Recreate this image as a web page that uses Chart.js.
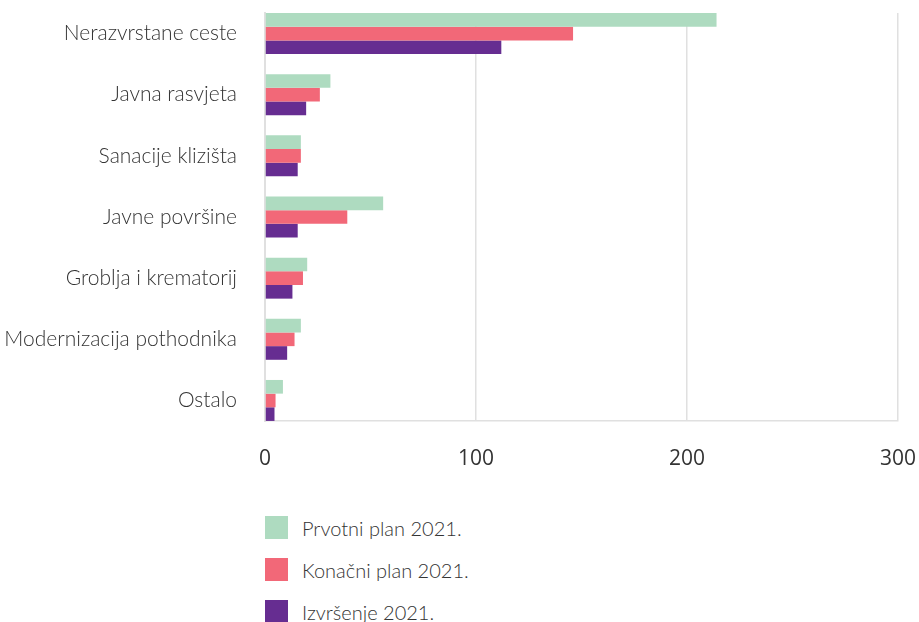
<!DOCTYPE html>
<html>
<head>
<meta charset="utf-8">
<script src="https://cdn.jsdelivr.net/npm/chart.js@4.4.0/dist/chart.umd.min.js"></script>
<style>
  html, body { margin: 0; padding: 0; background: #fff; overflow: hidden; }
  #wrap { position: relative; width: 919px; height: 622px; }
  #box { position: absolute; left: 0; top: 0; width: 919px; height: 480px; }
  #legend { position: absolute; left: 265px; top: 516px; font-family: Lato, "Noto Sans", sans-serif; font-weight: 300; font-size: 20px; color: #333; }
  .item { display: flex; align-items: center; height: 23px; margin-bottom: 19px; }
  .sw { width: 23px; height: 23px; margin-right: 14px; }
</style>
</head>
<body>
<div id="wrap">
  <div id="box"><canvas id="chart"></canvas></div>
  <div id="legend"></div>
</div>
<script>
const categories = [
  "Nerazvrstane ceste",
  "Javna rasvjeta",
  "Sanacije klizišta",
  "Javne površine",
  "Groblja i krematorij",
  "Modernizacija pothodnika",
  "Ostalo"
];
const seriesNames = ["Prvotni plan 2021.", "Konačni plan 2021.", "Izvršenje 2021."];
const prvotniPlan = [214, 31, 17, 56, 20, 17, 8.5];
const konacniPlan = [146, 26, 17, 39, 18, 14, 5];
const izvrsenje = [112, 19.5, 15.5, 15.5, 13, 10.5, 4.5];
const xTicks = [0, 100, 200, 300];
const colors = ["#aedbc0", "#f26878", "#662d91"];

// bars sit on a numeric y axis (index per category)
function toPoints(values) {
  return values.map((v, i) => ({ x: v, y: i }));
}

const allSeries = [prvotniPlan, konacniPlan, izvrsenje];
const datasets = allSeries.map((values, k) => ({
  label: seriesNames[k],
  data: toPoints(values),
  backgroundColor: colors[k],
  categoryPercentage: 0.67,
  barPercentage: 1,
  clip: false
}));

new Chart(document.getElementById("chart"), {
  type: "bar",
  data: { datasets: datasets },
  options: {
    indexAxis: "y",
    responsive: true,
    maintainAspectRatio: false,
    animation: false,
    layout: { padding: { top: 13, right: 21, left: 0, bottom: 0 } },
    plugins: { legend: { display: false }, tooltip: { enabled: false } },
    scales: {
      x: {
        type: "linear",
        min: 0,
        max: 300,
        afterBuildTicks: (scale) => { scale.ticks = xTicks.map(v => ({ value: v })); },
        afterFit: (scale) => {
          scale.height = 59;
          scale.paddingLeft = 0; scale.paddingRight = 0;
        },
        grid: { color: "#e0e0e0", lineWidth: 1.5, drawTicks: false },
        border: { display: true, color: "#e0e0e0", width: 1.5 },
        ticks: {
          padding: 25,
          color: "#333",
          font: { family: "'Open Sans'", size: 21 }
        }
      },
      y: {
        type: "linear",
        reverse: true,
        offset: false,
        min: -0.336,
        max: 6.336,
        afterBuildTicks: (scale) => { scale.ticks = categories.map((c, i) => ({ value: i })); },
        afterFit: (scale) => {
          scale.width = 265;
          scale.paddingTop = 0; scale.paddingBottom = 0;
        },
        grid: { display: false, drawTicks: false },
        border: { display: true, color: "#e0e0e0", width: 2 },
        ticks: {
          padding: 28,
          color: "#333",
          font: { family: "Lato", size: 21, weight: 300 },
          callback: (v) => categories[v]
        }
      }
    }
  }
});

const legend = document.getElementById("legend");
seriesNames.forEach((name, k) => {
  const row = document.createElement("div");
  row.className = "item";
  row.innerHTML = `<div class="sw" style="background:${colors[k]}"></div><span>${name}</span>`;
  legend.appendChild(row);
});
</script>
</body>
</html>
